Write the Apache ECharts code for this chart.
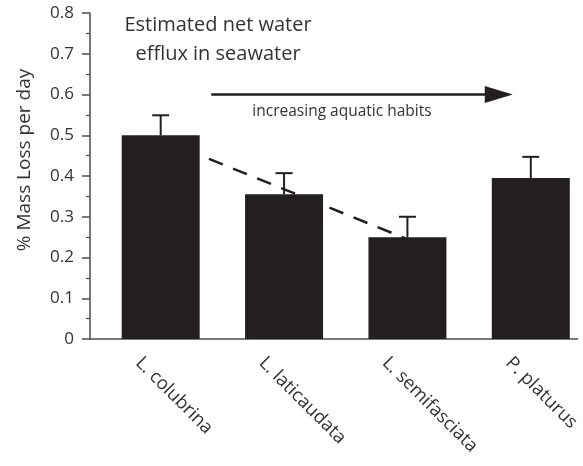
<!DOCTYPE html>
<html>
<head>
<meta charset="utf-8">
<script src="https://cdn.jsdelivr.net/npm/echarts@6/dist/echarts.min.js"></script>
<style>
html,body{margin:0;padding:0;background:#fff;}
#chart{width:583px;height:466px;}
</style>
</head>
<body>
<div id="chart"></div>
<script>
// ---- data ----
const categories = ['L. colubrina', 'L. laticaudata', 'L. semifasciata', 'P. platurus'];
const massLoss = [0.50, 0.355, 0.25, 0.395];
const errUpper = [0.549, 0.407, 0.300, 0.447];
const trendX = [0, 2];
const trendY = [0.49, 0.245];
const yTicks = [0, 0.1, 0.2, 0.3, 0.4, 0.5, 0.6, 0.7, 0.8];

const INK = '#231f20';
const AXIS = '#4d4d4d';
const TXT = '#333333';
const FONT = '"Open Sans", "DejaVu Sans", sans-serif';
const LABEL_SHIFT = 0.18;

const barData = massLoss.map((v, i) => [i, v]);
const errData = massLoss.map((v, i) => [i, v, errUpper[i]]);
const trendData = trendX.map((x, i) => [x, trendY[i]]);

const chart = echarts.init(document.getElementById('chart'), null, {renderer: 'canvas'});
chart.setOption({
  backgroundColor: '#fff',
  animation: false,
  grid: {left: 90, right: 3, top: 13, bottom: 127, containLabel: false},
  xAxis: {
    type: 'value',
    min: -0.573,
    max: 3.379,
    splitLine: {show: false},
    axisTick: {show: false},
    axisLine: {show: true, onZero: false, lineStyle: {color: AXIS, width: 1.5}},
    axisLabel: {
      customValues: categories.map((c, i) => i - LABEL_SHIFT),
      formatter: v => categories[Math.round(v + LABEL_SHIFT)] || '',
      rotate: -45,
      margin: 21,
      fontSize: 18.5,
      fontFamily: FONT,
      color: TXT
    }
  },
  yAxis: {
    type: 'value',
    min: 0,
    max: 0.8,
    interval: 0.1,
    splitLine: {show: false},
    axisLine: {show: true, onZero: false, lineStyle: {color: AXIS, width: 1.5}},
    axisTick: {show: true, length: 8, lineStyle: {color: AXIS, width: 1.5}},
    minorTick: {show: true, splitNumber: 2, length: 4, lineStyle: {color: AXIS, width: 1.2}},
    axisLabel: {
      margin: 16,
      fontSize: 17,
      fontFamily: FONT,
      color: TXT,
      formatter: v => String(+v.toFixed(1))
    }
  },
  series: [
    {
      type: 'line',
      data: trendData,
      z: 1,
      symbol: 'none',
      lineStyle: {color: INK, width: 2.5, type: [15, 11]}
    },
    {
      type: 'bar',
      data: barData,
      z: 3,
      barWidth: 78,
      itemStyle: {color: INK},
      markLine: {
        silent: true,
        symbol: ['none', 'triangle'],
        symbolSize: [17, 28],
        label: {show: false},
        lineStyle: {color: INK, width: 2.5, type: 'solid'},
        data: [[{coord: [0.41, 0.6]}, {coord: [2.74, 0.6]}]]
      }
    },
    {
      type: 'custom',
      z: 4,
      data: errData,
      renderItem: function (params, api) {
        const x = api.value(0);
        const base = api.coord([x, api.value(1)]);
        const top = api.coord([x, api.value(2)]);
        const half = 8.5;
        return {
          type: 'group',
          children: [
            {type: 'line', shape: {x1: base[0], y1: base[1], x2: top[0], y2: top[1]},
             style: {stroke: INK, lineWidth: 2}},
            {type: 'line', shape: {x1: top[0] - half, y1: top[1], x2: top[0] + half, y2: top[1]},
             style: {stroke: INK, lineWidth: 2}}
          ]
        };
      }
    }
  ],
  graphic: [
    {
      type: 'text',
      x: 218, y: 40,
      style: {
        text: 'Estimated net water\nefflux in seawater',
        fontSize: 20, lineHeight: 29, fontFamily: FONT, fill: TXT,
        align: 'center', verticalAlign: 'middle'
      }
    },
    {
      type: 'text',
      x: 342, y: 112,
      style: {
        text: 'increasing aquatic habits',
        fontSize: 15.5, fontFamily: FONT, fill: TXT,
        align: 'center', verticalAlign: 'middle'
      }
    },
    {
      type: 'text',
      x: 25, y: 160,
      rotation: Math.PI / 2,
      style: {
        text: '% Mass Loss per day',
        fontSize: 19, fontFamily: FONT, fill: TXT,
        align: 'center', verticalAlign: 'middle'
      }
    }
  ]
});
</script>
</body>
</html>
